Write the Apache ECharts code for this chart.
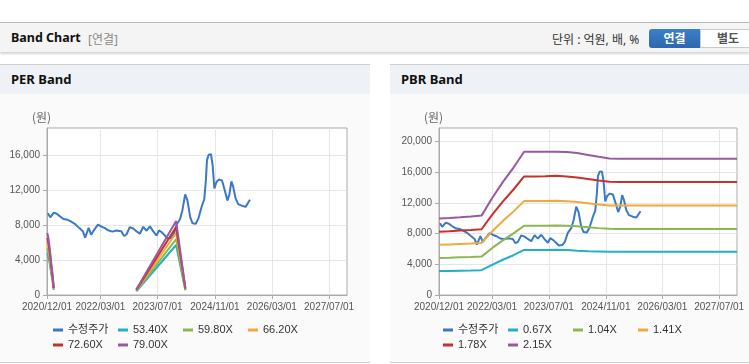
<!DOCTYPE html>
<html>
<head>
<meta charset="utf-8">
<script src="https://cdn.jsdelivr.net/npm/echarts@6/dist/echarts.min.js"></script>
<style>
  body { margin: 0; width: 749px; height: 364px; overflow: hidden; background: #fff; position: relative;
         font-family: "Noto Sans", "Noto Sans CJK KR", sans-serif; }
  .topbar { position: absolute; left: 0; top: 22px; width: 749px; height: 29px; background: #f4f4f4;
            border-top: 1px solid #b9b9b9; box-shadow: 0 2px 2px rgba(0,0,0,.16); }
  .topbar .ttl { position: absolute; left: 11px; top: 6px; font-size: 12.5px; font-weight: bold; color: #111; }
  .topbar .sub { position: absolute; left: 88px; top: 7px; font-size: 12px; color: #8a8a8a; }
  .topbar .unit { position: absolute; left: 552px; top: 7px; font-size: 12px; color: #333; }
  .btn { position: absolute; top: 6px; height: 19px; line-height: 19px; font-size: 12px; font-weight: bold; text-align: center; }
  .btn.on { left: 649px; width: 51px; background: linear-gradient(#3b80c8, #2c68ad); color: #fff; border-radius: 3px 0 0 3px; }
  .btn.off { left: 700px; width: 54px; background: #fff; color: #555; border: 1px solid #cacaca; height: 17px; line-height: 17px; border-radius: 0 3px 3px 0; }
  .panel { position: absolute; top: 64px; height: 297px; background: #fafafa; border-top: 1px solid #cfcfcf; border-bottom: 1px solid #cfcfcf; }
  .panel .head { height: 29px; background: #eef1f6; font-size: 13px; font-weight: bold; color: #111; line-height: 29px; padding-left: 11px; }
  .chart { position: absolute; left: 0; top: 29px; height: 267px; }
</style>
</head>
<body>
<div class="topbar">
  <span class="ttl">Band Chart</span>
  <span class="sub">[연결]</span>
  <span class="unit">단위 : 억원, 배, %</span>
  <div class="btn on">연결</div>
  <div class="btn off">별도</div>
</div>
<div class="panel" style="left:0;width:370px">
  <div class="head">PER Band</div>
  <div class="chart" id="per" style="width:370px"></div>
</div>
<div class="panel" style="left:390px;width:359px">
  <div class="head">PBR Band</div>
  <div class="chart" id="pbr" style="width:359px"></div>
</div>
<script>
// axis ticks
const xMin = '2020-12-01';
const xMax = '2027-12-01';
const xTicks = ['2020-12-01', '2022-03-01', '2023-07-01', '2024-11-01', '2026-03-01', '2027-07-01'];
const perYTicks = [0, 4000, 8000, 12000, 16000];
const pbrYTicks = [0, 4000, 8000, 12000, 16000, 20000];

// 수정주가 (same line on both charts)
const priceDates = [
  '2020-12-09','2020-12-29','2021-01-28','2021-02-22','2021-03-19','2021-04-20','2021-05-27','2021-06-30',
  '2021-07-29','2021-09-03','2021-10-02','2021-10-22','2021-11-06','2021-11-21','2021-12-12','2022-01-04',
  '2022-02-08','2022-03-10','2022-04-08','2022-05-06','2022-06-10','2022-07-15','2022-08-26','2022-09-18',
  '2022-10-09','2022-11-06','2022-12-05','2023-01-02','2023-01-31','2023-03-01','2023-03-29','2023-04-27',
  '2023-05-25','2023-06-23','2023-07-13','2023-08-05','2023-09-02','2023-09-25','2023-10-24','2023-11-16',
  '2023-12-11','2024-01-09','2024-01-29','2024-02-21','2024-03-12','2024-04-04','2024-04-24','2024-05-22',
  '2024-06-14','2024-07-13','2024-08-02','2024-08-16','2024-08-25','2024-09-08','2024-09-28','2024-10-12',
  '2024-10-27','2024-11-13','2024-12-03','2024-12-31','2025-01-23','2025-02-15','2025-03-04','2025-03-21',
  '2025-04-05','2025-04-25','2025-05-18','2025-06-21','2025-07-20','2025-08-06','2025-08-26'
];
const priceValues = [
  9350, 8880, 9420, 9300, 9020, 8700, 8600, 8350,
  8100, 7650, 7300, 6560, 7120, 7680, 6900, 7400,
  8050, 7820, 7650, 7400, 7250, 7380, 7300, 6750,
  6920, 7760, 7600, 7300, 7000, 7800, 7350, 7850,
  7280, 6800, 7400, 7180, 6800, 6450, 6500, 6950,
  8100, 8700, 9700, 11500, 10800, 8900, 8200, 8150,
  8800, 10200, 10950, 13200, 15430, 16050, 16100, 14900,
  12200, 12900, 13200, 13100, 12000, 10800, 11500, 13000,
  12400, 11080, 10400, 10200, 10080, 9950, 10900
];

// PER band (null = no data)
const perBandDates = ['2020-12-04','2020-12-15','2020-12-27','2021-01-07','2021-01-19','2021-01-27',
  '2021-06-01','2023-01-01','2023-12-06','2024-02-23'];
const per5340 = [4790, 4270, 3370, 2390, 1440, 590, null, 430, 5720, 540];
const per5980 = [5370, 4780, 3770, 2680, 1610, 660, null, 480, 6400, 600];
const per6620 = [5940, 5300, 4170, 2970, 1790, 730, null, 540, 7090, 670];
const per7260 = [6520, 5810, 4580, 3250, 1960, 800, null, 590, 7770, 730];
const per7900 = [7090, 6320, 4980, 3540, 2130, 870, null, 640, 8450, 800];

// PBR band
const pbrBandDates = ['2020-12-01','2021-03-01','2021-06-01','2021-09-01','2021-12-01','2022-03-01','2022-06-01',
  '2022-09-01','2022-12-01','2023-03-01','2023-06-01','2023-09-01','2023-12-01','2024-03-01','2024-06-01',
  '2024-09-01','2024-12-01','2025-03-01','2027-12-01'];
const pbr067 = [3110, 3130, 3160, 3190, 3230, 3930, 4590, 5180, 5870, 5870, 5870, 5880, 5860, 5760, 5700, 5670, 5640, 5630, 5630];
const pbr104 = [4820, 4860, 4910, 4950, 5000, 6100, 7110, 8030, 9020, 9020, 9020, 9040, 9010, 8940, 8820, 8710, 8620, 8610, 8610];
const pbr141 = [6530, 6590, 6650, 6710, 6780, 8270, 9640, 10890, 12230, 12230, 12230, 12260, 12210, 12120, 11960, 11800, 11660, 11650, 11650];
const pbr178 = [8240, 8310, 8390, 8470, 8560, 10430, 12170, 13740, 15440, 15440, 15450, 15520, 15420, 15300, 15100, 14900, 14740, 14730, 14730];
const pbr215 = [9960, 10040, 10130, 10230, 10340, 12600, 14700, 16600, 18650, 18650, 18650, 18650, 18620, 18480, 18240, 18000, 17780, 17760, 17760];

const colors = ['#3a78c8', '#22b0c2', '#8cb650', '#f0aa3c', '#c9302c', '#9a589f'];
const FONT = '"Liberation Sans", "Noto Sans CJK KR", sans-serif';

const toTs = s => echarts.time.parse(s).getTime();
const pairs = (dates, vals) => dates.map((d, i) => [toTs(d), vals[i] == null ? '-' : vals[i]]);

function buildOption(cfg) {
  const names = cfg.series.map(s => s.name);
  return {
    animation: false,
    color: colors,
    textStyle: { fontFamily: FONT },
    grid: { left: cfg.left, top: 34, width: cfg.width, height: 167, show: true,
            borderColor: '#ababab', borderWidth: 1, backgroundColor: '#fff' },
    graphic: [{ type: 'text', left: cfg.left - 15, top: 17,
                style: { text: '(원)', fill: '#666', font: '12px "Noto Sans CJK KR"' } }],
    legend: {
      data: names, left: 53, top: 230, width: 270, itemGap: 3, padding: 0,
      icon: 'rect', itemWidth: 10, itemHeight: 3,
      textStyle: { fontSize: 11, color: '#333', width: 47, lineHeight: 12, fontFamily: FONT }
    },
    xAxis: {
      type: 'value', min: toTs(xMin), max: toTs(xMax),
      axisLine: { lineStyle: { color: '#ababab' } },
      axisTick: { show: true, length: 4, customValues: xTicks.map(toTs), lineStyle: { color: '#ababab' } },
      axisLabel: { customValues: xTicks.map(toTs), color: '#555', fontSize: 10, margin: 7,
                   formatter: v => echarts.time.format(v, '{yyyy}/{MM}/{dd}', false) },
      splitLine: { show: true, lineStyle: { color: '#e6e6e6' } }
    },
    yAxis: {
      type: 'value', min: 0, max: cfg.yMax, interval: 4000,
      axisLine: { show: true, lineStyle: { color: '#ababab' } },
      axisTick: { show: true, length: 4, customValues: cfg.yTicks, lineStyle: { color: '#ababab' } },
      axisLabel: { customValues: cfg.yTicks, color: '#555', fontSize: 10, margin: 7,
                   formatter: v => v.toLocaleString('en-US') },
      splitLine: { show: true, lineStyle: { color: '#e6e6e6' } }
    },
    series: cfg.series.map(s => ({
      name: s.name, type: 'line', data: s.data, showSymbol: false, connectNulls: false,
      lineStyle: { width: 2 }, emphasis: { disabled: true }
    }))
  };
}

const perChart = echarts.init(document.getElementById('per'));
perChart.setOption(buildOption({
  left: 47, width: 300, yMax: 19100, yTicks: perYTicks,
  series: [
    { name: '수정주가', data: pairs(priceDates, priceValues) },
    { name: '53.40X', data: pairs(perBandDates, per5340) },
    { name: '59.80X', data: pairs(perBandDates, per5980) },
    { name: '66.20X', data: pairs(perBandDates, per6620) },
    { name: '72.60X', data: pairs(perBandDates, per7260) },
    { name: '79.00X', data: pairs(perBandDates, per7900) }
  ]
}));

const pbrChart = echarts.init(document.getElementById('pbr'));
pbrChart.setOption(buildOption({
  left: 49, width: 298, yMax: 21750, yTicks: pbrYTicks,
  series: [
    { name: '수정주가', data: pairs(priceDates, priceValues) },
    { name: '0.67X', data: pairs(pbrBandDates, pbr067) },
    { name: '1.04X', data: pairs(pbrBandDates, pbr104) },
    { name: '1.41X', data: pairs(pbrBandDates, pbr141) },
    { name: '1.78X', data: pairs(pbrBandDates, pbr178) },
    { name: '2.15X', data: pairs(pbrBandDates, pbr215) }
  ]
}));
</script>
</body>
</html>
